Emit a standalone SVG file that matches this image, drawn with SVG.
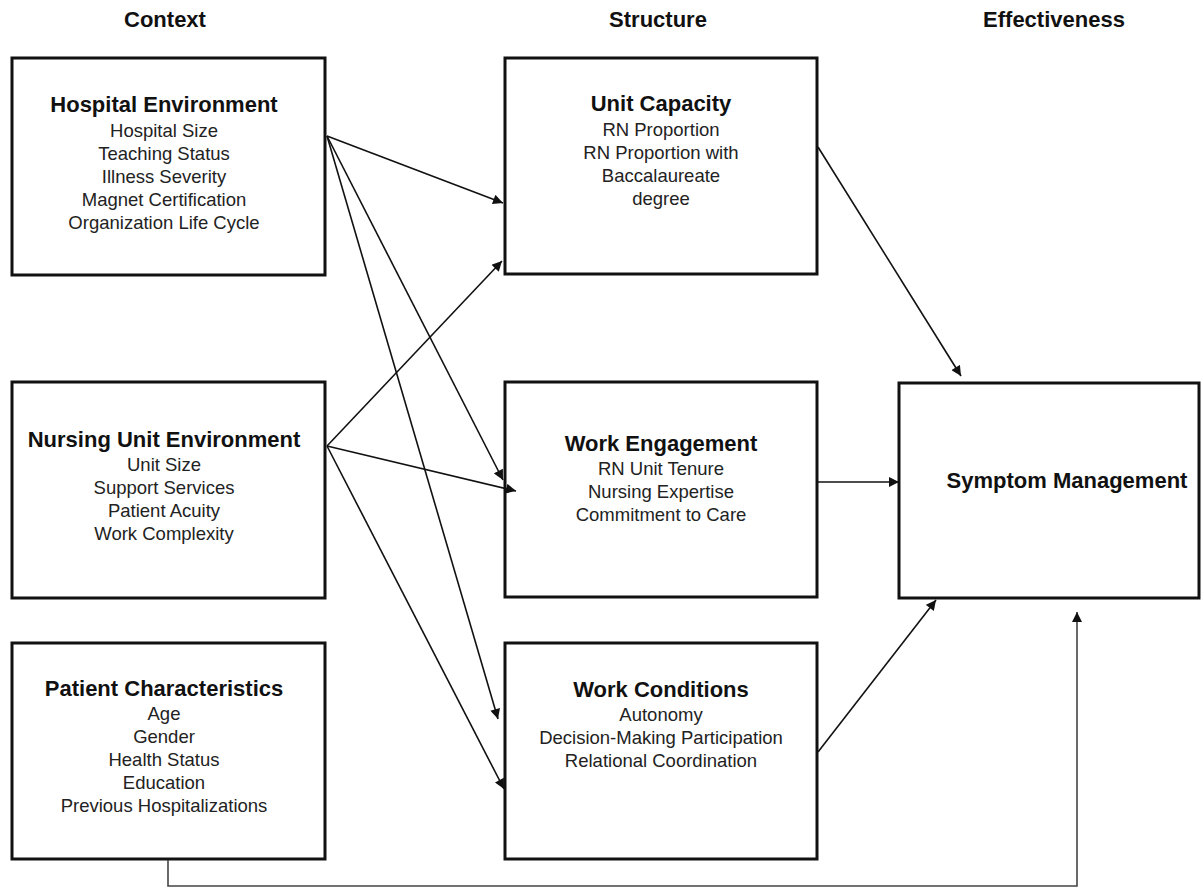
<svg xmlns="http://www.w3.org/2000/svg" width="1201" height="890" viewBox="0 0 1201 890">
<defs>
<marker id="ah" viewBox="0 0 10 10" refX="10" refY="5" markerWidth="11" markerHeight="10" markerUnits="userSpaceOnUse" orient="auto">
<path d="M0,0 L10,5 L0,10 z" fill="#111"/>
</marker>
<style>
.box{fill:#fff;stroke:#111;stroke-width:3}
.t{font-family:"Liberation Sans",Arial,sans-serif;font-size:22px;font-weight:bold;fill:#111;text-anchor:middle}
.s{font-family:"Liberation Sans",Arial,sans-serif;font-size:18.5px;fill:#222;text-anchor:middle}
.h{font-family:"Liberation Sans",Arial,sans-serif;font-size:22px;font-weight:bold;fill:#111;text-anchor:middle}
.c{fill:none;stroke:#111;stroke-width:1.6;marker-end:url(#ah)}
.c2{fill:none;stroke:#444;stroke-width:1.6;marker-end:url(#ah)}
</style>
</defs>
<rect width="1201" height="890" fill="#fff"/>
<g id="headers">
<text class="h" x="165" y="27">Context</text>
<text class="h" x="658" y="27">Structure</text>
<text class="h" x="1054" y="27">Effectiveness</text>
</g>
<g id="hospital">
<rect class="box" x="12" y="58" width="313" height="217"/>
<text class="t" x="164" y="112">Hospital Environment</text>
<text class="s" x="164" y="137">Hospital Size</text>
<text class="s" x="164" y="160">Teaching Status</text>
<text class="s" x="164" y="183">Illness Severity</text>
<text class="s" x="164" y="206">Magnet Certification</text>
<text class="s" x="164" y="229">Organization Life Cycle</text>
</g>
<g id="nursing">
<rect class="box" x="12" y="382" width="313" height="216"/>
<text class="t" x="164" y="447">Nursing Unit Environment</text>
<text class="s" x="164" y="471">Unit Size</text>
<text class="s" x="164" y="494">Support Services</text>
<text class="s" x="164" y="517">Patient Acuity</text>
<text class="s" x="164" y="540">Work Complexity</text>
</g>
<g id="patient">
<rect class="box" x="12" y="643" width="313" height="216"/>
<text class="t" x="164" y="696">Patient Characteristics</text>
<text class="s" x="164" y="720">Age</text>
<text class="s" x="164" y="743">Gender</text>
<text class="s" x="164" y="766">Health Status</text>
<text class="s" x="164" y="789">Education</text>
<text class="s" x="164" y="812">Previous Hospitalizations</text>
</g>
<g id="capacity">
<rect class="box" x="505" y="58" width="312" height="216"/>
<text class="t" x="661" y="111">Unit Capacity</text>
<text class="s" x="661" y="136">RN Proportion</text>
<text class="s" x="661" y="159">RN Proportion with</text>
<text class="s" x="661" y="182">Baccalaureate</text>
<text class="s" x="661" y="205">degree</text>
</g>
<g id="engagement">
<rect class="box" x="505" y="382" width="312" height="215"/>
<text class="t" x="661" y="451">Work Engagement</text>
<text class="s" x="661" y="475">RN Unit Tenure</text>
<text class="s" x="661" y="498">Nursing Expertise</text>
<text class="s" x="661" y="521">Commitment to Care</text>
</g>
<g id="conditions">
<rect class="box" x="505" y="643" width="312" height="216"/>
<text class="t" x="661" y="697">Work Conditions</text>
<text class="s" x="661" y="721">Autonomy</text>
<text class="s" x="661" y="744">Decision-Making Participation</text>
<text class="s" x="661" y="767">Relational Coordination</text>
</g>
<g id="symptom">
<rect class="box" x="899" y="383" width="300" height="215"/>
<text class="t" x="1067" y="488">Symptom Management</text>
</g>
<g id="connectors">
<line class="c" x1="327" y1="136" x2="503" y2="203"/>
<line class="c" x1="327" y1="136" x2="503" y2="480"/>
<line class="c" x1="327" y1="136" x2="498" y2="719"/>
<line class="c" x1="327" y1="446" x2="502" y2="261"/>
<line class="c" x1="327" y1="446" x2="516" y2="491"/>
<line class="c" x1="327" y1="446" x2="504" y2="789"/>
<line class="c" x1="818" y1="147" x2="961" y2="376"/>
<line class="c" x1="818" y1="482" x2="899" y2="482"/>
<line class="c" x1="818" y1="752" x2="936" y2="600"/>
<polyline class="c2" points="168,860 168,886 1077,886 1077,612"/>
</g>
</svg>
